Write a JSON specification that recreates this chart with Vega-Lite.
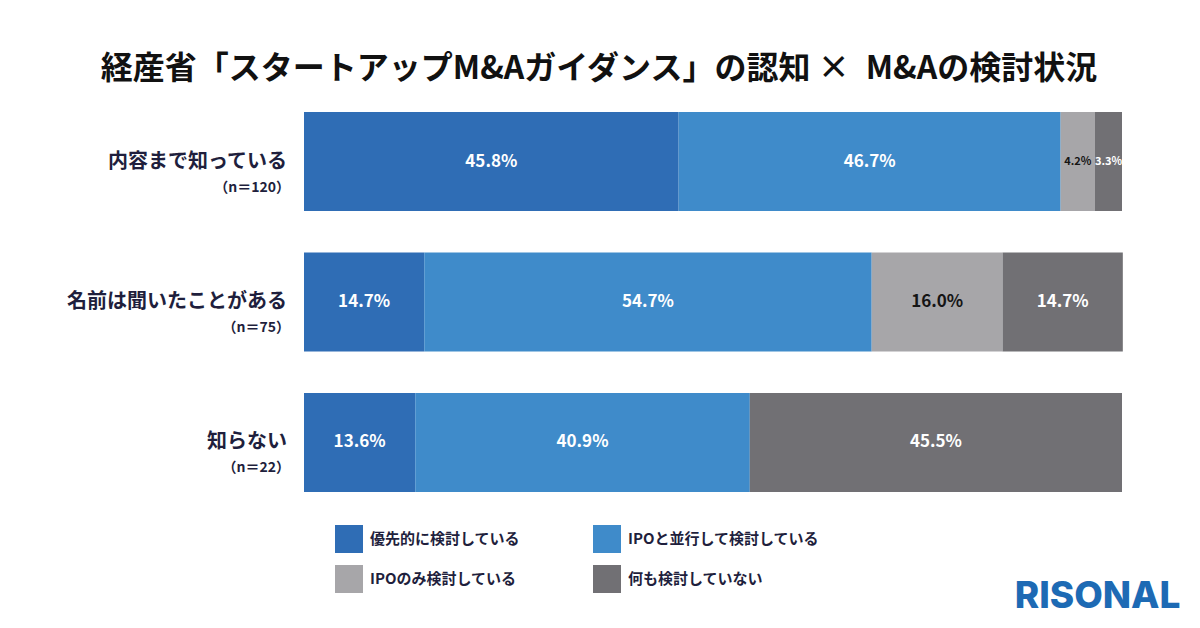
{
  "$schema": "https://vega.github.io/schema/vega-lite/v6.json",
  "width": 818,
  "height": 380,
  "autosize": {"type": "none"},
  "padding": {"left": 304, "top": 112, "right": 78, "bottom": 136},
  "background": "#ffffff",
  "title": {
    "text": "経産省「スタートアップM&Aガイダンス」の認知 ×\u2002M&Aの検討状況",
    "font": "Noto Sans CJK JP",
    "fontSize": 32,
    "fontWeight": "bold",
    "color": "#111111",
    "anchor": "middle",
    "dx": -114,
    "offset": 26
  },
  "datasets": {
    "shares": [
      {"group": "内容まで知っている", "cat": "優先的に検討している", "k": 1, "v": 0.458},
      {"group": "内容まで知っている", "cat": "IPOと並行して検討している", "k": 2, "v": 0.467},
      {"group": "内容まで知っている", "cat": "IPOのみ検討している", "k": 3, "v": 0.042},
      {"group": "内容まで知っている", "cat": "何も検討していない", "k": 4, "v": 0.033},
      {"group": "名前は聞いたことがある", "cat": "優先的に検討している", "k": 1, "v": 0.147},
      {"group": "名前は聞いたことがある", "cat": "IPOと並行して検討している", "k": 2, "v": 0.547},
      {"group": "名前は聞いたことがある", "cat": "IPOのみ検討している", "k": 3, "v": 0.16},
      {"group": "名前は聞いたことがある", "cat": "何も検討していない", "k": 4, "v": 0.147},
      {"group": "知らない", "cat": "優先的に検討している", "k": 1, "v": 0.136},
      {"group": "知らない", "cat": "IPOと並行して検討している", "k": 2, "v": 0.409},
      {"group": "知らない", "cat": "何も検討していない", "k": 4, "v": 0.455}
    ],
    "groups": [
      {"group": "内容まで知っている", "n": "（n＝120）"},
      {"group": "名前は聞いたことがある", "n": "（n＝75）"},
      {"group": "知らない", "n": "（n＝22）"}
    ]
  },
  "config": {
    "view": {"stroke": null},
    "axisX": {
      "labels": false,
      "ticks": false,
      "domain": false,
      "grid": false,
      "titleFont": "Inter",
      "titleFontSize": 37,
      "titleFontWeight": 800,
      "titleColor": "#1d6ab4",
      "titleX": 876,
      "titleY": 115,
      "titleAlign": "right",
      "titleBaseline": "alphabetic"
    }
  },
  "layer": [
    {
      "data": {"name": "shares"},
      "transform": [
        {"stack": "v", "groupby": ["group"], "sort": [{"field": "k", "order": "ascending"}], "as": ["v0", "v1"]}
      ],
      "mark": {"type": "bar"},
      "encoding": {
        "y": {
          "field": "group",
          "type": "nominal",
          "sort": ["内容まで知っている", "名前は聞いたことがある", "知らない"],
          "scale": {"paddingInner": 0.295, "paddingOuter": 0},
          "axis": null
        },
        "x": {
          "field": "v0",
          "type": "quantitative",
          "scale": {"domain": [0, 1], "nice": false, "zero": true},
          "title": "RISONAL"
        },
        "x2": {"field": "v1"},
        "color": {
          "field": "cat",
          "type": "nominal",
          "scale": {
            "domain": ["優先的に検討している", "IPOと並行して検討している", "IPOのみ検討している", "何も検討していない"],
            "range": ["#2f6db5", "#3f8bca", "#a7a6a9", "#717074"]
          },
          "legend": {
            "title": null,
            "orient": "none",
            "legendX": 31,
            "legendY": 413,
            "direction": "horizontal",
            "columns": 2,
            "columnPadding": 72,
            "rowPadding": 12,
            "padding": 0,
            "symbolType": "square",
            "symbolSize": 784,
            "symbolStrokeWidth": 0,
            "symbolOpacity": 1,
            "labelOffset": 7,
            "labelFont": "Noto Sans CJK JP",
            "labelFontSize": 15,
            "labelFontWeight": "bold",
            "labelColor": "#1f1f3d",
            "labelLimit": 400
          }
        }
      }
    },
    {
      "data": {"name": "shares"},
      "transform": [
        {"stack": "v", "groupby": ["group"], "sort": [{"field": "k", "order": "ascending"}], "as": ["v0", "v1"]},
        {"calculate": "(datum.v0 + datum.v1) / 2", "as": "mid"}
      ],
      "mark": {"type": "text", "font": "Noto Sans CJK JP", "fontWeight": "bold", "align": "center", "baseline": "middle"},
      "encoding": {
        "y": {"field": "group", "type": "nominal", "sort": ["内容まで知っている", "名前は聞いたことがある", "知らない"], "axis": null},
        "x": {"field": "mid", "type": "quantitative", "title": "RISONAL"},
        "text": {"field": "v", "type": "quantitative", "format": ".1%"},
        "size": {"condition": {"test": "datum.v < 0.1", "value": 11}, "value": 17},
        "color": {"condition": {"test": "datum.cat === 'IPOのみ検討している'", "value": "#151515"}, "value": "#ffffff"}
      }
    },
    {
      "data": {"name": "groups"},
      "mark": {"type": "text", "font": "Noto Sans CJK JP", "fontWeight": "bold", "fontSize": 20, "align": "right", "baseline": "middle", "dx": -17, "color": "#1f1f3d"},
      "encoding": {
        "y": {"field": "group", "type": "nominal", "sort": ["内容まで知っている", "名前は聞いたことがある", "知らない"], "axis": null},
        "x": {"datum": 0, "type": "quantitative", "title": "RISONAL"},
        "text": {"field": "group"}
      }
    },
    {
      "data": {"name": "groups"},
      "mark": {"type": "text", "font": "Noto Sans CJK JP", "fontWeight": "bold", "fontSize": 14, "align": "right", "baseline": "middle", "dx": -14, "dy": 26, "color": "#1f1f3d"},
      "encoding": {
        "y": {"field": "group", "type": "nominal", "sort": ["内容まで知っている", "名前は聞いたことがある", "知らない"], "axis": null},
        "x": {"datum": 0, "type": "quantitative", "title": "RISONAL"},
        "text": {"field": "n"}
      }
    }
  ]
}
